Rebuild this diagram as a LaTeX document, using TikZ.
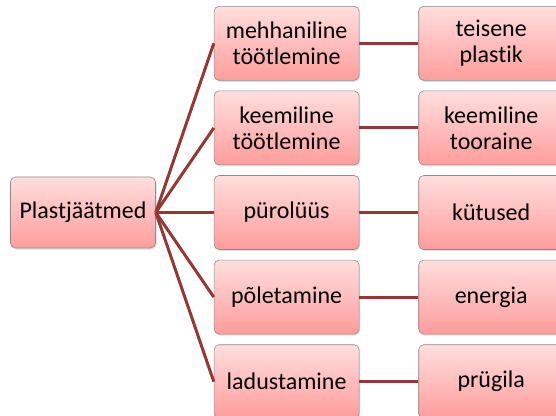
\documentclass[tikz,border=0pt]{standalone}
\usepackage{fontspec}
\setmainfont{Carlito}[Ligatures={NoCommon}]
\usetikzlibrary{positioning}
\usetikzlibrary{shadows}

\definecolor{pinktop}{HTML}{FFDEDE}
\definecolor{pinkbot}{HTML}{FF9C9C}
\definecolor{linkred}{HTML}{953735}

\tikzset{
  box/.style={draw=black!45, line width=0.6bp, rounded corners=5bp,
    top color=pinktop, bottom color=pinkbot,
    drop shadow={shadow xshift=1bp, shadow yshift=-1.5bp, opacity=0.25},
    minimum width=145bp, minimum height=74bp, inner sep=2bp, align=center,
    font=\fontsize{24bp}{26bp}\selectfont},
  link/.style={draw=linkred, line width=3bp}
}

\begin{document}
\begin{tikzpicture}[auto,node distance=10bp,on grid=false]

    \useasboundingbox (0,0) rectangle (556bp,-416bp);

    % Place nodes
    \node [box, minimum height=71bp] (plast) at (83bp,-212.5bp) {Plastjäätmed};
    \node [box, right=58bp of plast] (pyro) {pürolüüs};
    \node [box, above=of pyro] (keem) {keemiline\\töötlemine};
    \node [box, above=of keem] (mehh) {mehhaniline\\töötlemine};
    \node [box, below=of pyro] (pole) {põletamine};
    \node [box, below=of pole] (lad) {ladustamine};

    \node [box, right=59bp of mehh] (teisene) {teisene\\plastik};
    \node [box, right=59bp of keem] (tooraine) {keemiline\\tooraine};
    \node [box, right=59bp of pyro] (kytus) {kütused};
    \node [box, right=59bp of pole] (energia) {energia};
    \node [box, right=59bp of lad] (prygila) {prügila};

    % Connectors
    \foreach \m/\r in {mehh/teisene, keem/tooraine, pyro/kytus, pole/energia, lad/prygila}{
      \draw [link] (plast.east) -- (\m.west);
      \draw [link] (\m.east) -- (\r.west);
    }

\end{tikzpicture}
\end{document}
